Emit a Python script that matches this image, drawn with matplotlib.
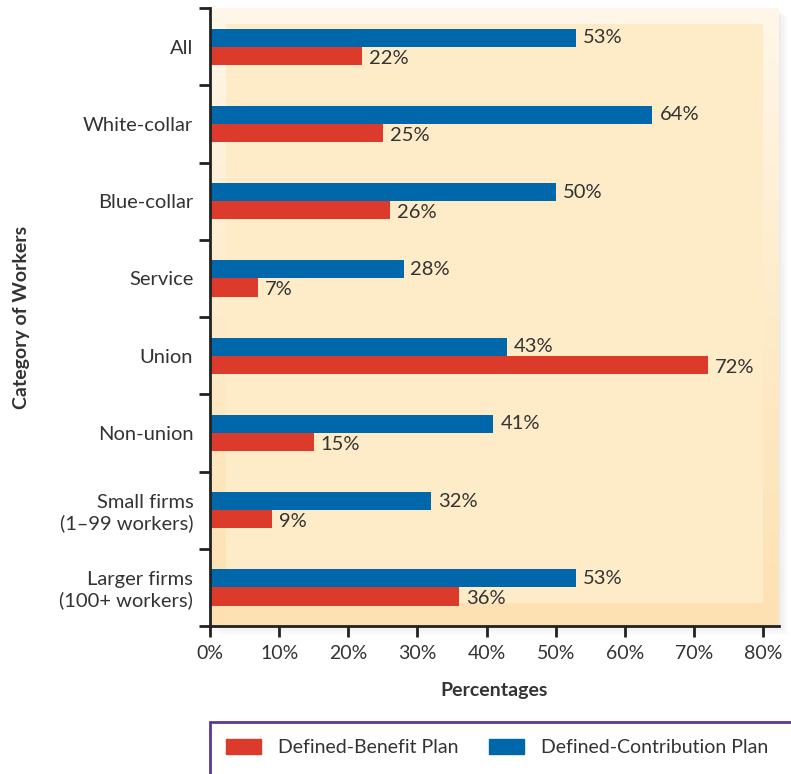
import matplotlib.pyplot as plt
import matplotlib.patches as mpatches
import numpy as np

plt.rcParams['font.family'] = ['Lato', 'DejaVu Sans']

categories = ['All', 'White-collar', 'Blue-collar', 'Service', 'Union',
              'Non-union', 'Small firms\n(1\u201399 workers)',
              'Larger firms\n(100+ workers)']
defined_benefit = [22, 25, 26, 7, 72, 15, 9, 36]
defined_contribution = [53, 64, 50, 28, 43, 41, 32, 53]
xticks = [0, 10, 20, 30, 40, 50, 60, 70, 80]

red = '#DC3A2B'
blue = '#0068AA'
txt = '#333333'

fig = plt.figure(figsize=(7.91, 7.74), dpi=100)
ax = fig.add_axes([0.2655, 0.1912, 0.7193, 0.7984])

# soft shadow to the right / below of the panel
for i, a in enumerate([0.05, 0.04, 0.03, 0.02]):
    d = 0.003 * (i + 1)
    fig.patches.append(mpatches.Rectangle((0.2655 + d, 0.1912 - d), 0.7193, 0.7984,
                                          transform=fig.transFigure, color='#888888',
                                          alpha=a, zorder=-5, lw=0))

# outer frame: light at top, warmer toward the bottom
grad = np.linspace(0, 1, 256).reshape(-1, 1)
ax.imshow(grad, extent=[0, 1, 0, 1], transform=ax.transAxes,
          cmap=plt.matplotlib.colors.LinearSegmentedColormap.from_list(
              'c', ['#FFF7E9', '#FEEBC9', '#FDE1B2']),
          vmin=0, vmax=1, aspect='auto', zorder=0)
# inner flat panel
ax.add_patch(mpatches.Rectangle((0.028, 0.037), 0.944, 0.937, transform=ax.transAxes,
                                color='#FEEBC8', lw=0, zorder=1))

n = len(categories)
y = np.arange(n)
h = 0.235
ax.barh(y - h / 2, defined_contribution, height=h, color=blue, zorder=2)
ax.barh(y + h / 2, defined_benefit, height=h, color=red, zorder=2)

for yi, v in zip(y, defined_contribution):
    ax.text(v + 1.0, yi - h / 2, f'{v}%', va='center', ha='left', fontsize=14.5, color=txt)
for yi, v in zip(y, defined_benefit):
    ax.text(v + 1.0, yi + h / 2 + 0.03, f'{v}%', va='center', ha='left', fontsize=14.5, color=txt)

ax.set_xlim(0, 82.3)
ax.set_ylim(n - 0.5, -0.5)
ax.set_xticks(xticks)
ax.set_xticklabels([f'{t}%' for t in xticks], fontsize=14, color=txt)
ax.set_yticks(y)
ax.set_yticklabels(categories, fontsize=14.5, color=txt, multialignment='right')
ax.set_yticks(np.arange(-0.5, n, 1), minor=True)
ax.tick_params(axis='y', which='major', length=0, pad=12)
ax.tick_params(axis='y', which='minor', length=8, width=2, color='#222222')
ax.tick_params(axis='x', length=8, width=2, color='#222222', pad=6)

for s in ['top', 'right']:
    ax.spines[s].set_visible(False)
for s in ['left', 'bottom']:
    ax.spines[s].set_linewidth(2)
    ax.spines[s].set_color('#222222')
    ax.spines[s].set_zorder(5)

ax.set_xlabel('Percentages', fontsize=14, fontweight='bold', color=txt, labelpad=14)
fig.text(0.027, 0.59, 'Category of Workers', rotation=90, fontsize=14,
         fontweight='bold', color=txt, ha='center', va='center')

# legend box
fig.patches.append(mpatches.Rectangle((0.2655, -0.01), 0.75, 0.077,
                                      transform=fig.transFigure, fill=False,
                                      edgecolor='#5B3A8E', lw=2))
handles = [mpatches.Patch(color=red, label='Defined-Benefit Plan'),
           mpatches.Patch(color=blue, label='Defined-Contribution Plan')]
fig.legend(handles=handles, loc='center left', bbox_to_anchor=(0.2857, 0.034),
           ncol=2, frameon=False, fontsize=14, handlelength=1.8, handleheight=0.75,
           handletextpad=0.85, columnspacing=1.6, labelcolor=txt,
           borderpad=0, borderaxespad=0)

fig.savefig('out.png', dpi=100)
